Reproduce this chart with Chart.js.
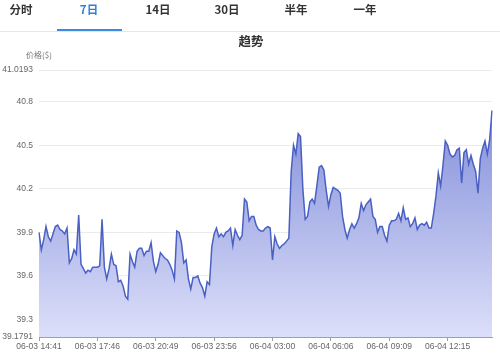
<!DOCTYPE html>
<html>
<head>
<meta charset="utf-8">
<script src="https://cdn.jsdelivr.net/npm/chart.js@4"></script>
<style>
  html, body { margin: 0; padding: 0; background: #fff; }
  body { width: 500px; height: 358px; position: relative; overflow: hidden; font-family: "Noto Sans CJK SC", "Noto Sans", sans-serif; }
  .tab { position: absolute; top: 1px; font-size: 11.5px; font-weight: bold; color: #333; transform: translateX(-50%); white-space: nowrap; line-height: 17px; }
  .tab.active { color: #2f7fd9; }
  #sep { position: absolute; left: 0; top: 31px; width: 500px; height: 1px; background: #e6e6e6; }
  #ul { position: absolute; left: 57px; top: 29px; width: 65px; height: 2px; background: #3d8be0; }
  #title { position: absolute; top: 32px; left: 251px; transform: translateX(-50%); font-size: 12.5px; font-weight: bold; color: #333; line-height: 18px; }
  #unit { position: absolute; top: 49px; left: 26px; font-size: 8px; color: #777; line-height: 12px; }
  #wrap { position: absolute; left: 0; top: 0; width: 500px; height: 358px; }
</style>
</head>
<body>
<div id="wrap"><canvas id="c" width="500" height="358"></canvas></div>
<div class="tab" style="left:21px">分时</div>
<div class="tab active" style="left:89px">7日</div>
<div class="tab" style="left:158px">14日</div>
<div class="tab" style="left:227px">30日</div>
<div class="tab" style="left:296px">半年</div>
<div class="tab" style="left:365px">一年</div>
<div id="sep"></div>
<div id="ul"></div>
<div id="title">趋势</div>
<div id="unit">价格($)</div>
<script>
// Tick labels of the time axis (one every 25 samples)
const xTickLabels = ['06-03 14:41','06-03 17:46','06-03 20:49','06-03 23:56','06-04 03:00','06-04 06:06','06-04 09:09','06-04 12:15'];
const tickEvery = 25;

// Y-axis tick values
const yTicks = [39.1791, 39.3, 39.6, 39.9, 40.2, 40.5, 40.8, 41.0193];
const yMin = 39.1791;
const yMax = 41.0193;

// Price series
const prices = [
39.90,39.78,39.85,39.94,39.87,39.84,39.89,39.94,39.95,39.92,
39.91,39.89,39.93,39.69,39.72,39.78,39.75,40.02,39.68,39.65,
39.62,39.64,39.63,39.66,39.66,39.66,39.67,39.99,39.66,39.58,
39.65,39.75,39.68,39.67,39.56,39.57,39.53,39.46,39.44,39.75,
39.70,39.66,39.77,39.79,39.79,39.74,39.77,39.77,39.83,39.70,
39.63,39.68,39.76,39.74,39.72,39.71,39.68,39.64,39.58,39.91,
39.90,39.83,39.69,39.71,39.58,39.51,39.59,39.59,39.60,39.55,
39.52,39.46,39.56,39.54,39.80,39.89,39.93,39.87,39.89,39.87,
39.90,39.91,39.93,39.81,39.92,39.88,39.85,39.88,40.13,40.11,
39.98,40.01,40.01,39.95,39.92,39.91,39.91,39.93,39.94,39.93,
39.71,39.87,39.82,39.79,39.81,39.82,39.84,39.86,40.32,40.50,
40.44,40.58,40.56,40.20,39.99,40.01,40.11,40.13,40.10,40.22,
40.35,40.36,40.33,40.19,40.08,40.16,40.21,40.20,40.19,40.17,
40.01,39.92,39.86,39.92,39.96,39.93,39.96,40.00,40.10,40.05,
40.09,40.11,40.13,40.01,39.99,39.90,39.94,39.94,39.88,39.84,
39.95,39.98,39.98,39.99,40.03,39.98,40.07,39.99,40.00,39.94,
39.96,40.00,39.92,39.95,39.96,39.95,39.97,39.93,39.93,40.03,
40.15,40.31,40.22,40.36,40.53,40.50,40.44,40.42,40.43,40.47,
40.48,40.24,40.45,40.47,40.37,40.43,40.37,40.32,40.17,40.41,
40.48,40.53,40.44,40.54,40.74
];

const categories = prices.map((_, i) => (i % tickEvery === 0 && xTickLabels[i / tickEvery]) ? xTickLabels[i / tickEvery] : '');

const tickFont = { family: '"Liberation Sans", Arial, sans-serif', size: 8.5 };

new Chart(document.getElementById('c'), {
  type: 'line',
  data: {
    labels: categories,
    datasets: [{
      data: prices,
      borderColor: '#4a60c2',
      borderWidth: 1.5,
      pointRadius: 0,
      pointHoverRadius: 0,
      tension: 0,
      fill: 'start',
      backgroundColor: (ctx) => {
        const a = ctx.chart.chartArea;
        if (!a) return 'rgba(120,135,215,0.6)';
        const g = ctx.chart.ctx.createLinearGradient(0, a.top, 0, a.bottom);
        g.addColorStop(0, '#7482d5');
        g.addColorStop(1, '#dcdff9');
        return g;
      }
    }]
  },
  options: {
    responsive: false,
    animation: false,
    devicePixelRatio: 1,
    layout: { padding: { top: 70, right: 8, bottom: 0, left: 0 } },
    plugins: { legend: { display: false }, tooltip: { enabled: false }, title: { display: false } },
    scales: {
      x: {
        type: 'category',
        afterFit: (s) => { s.height = 21; },
        border: { display: true, color: '#a0a0a0', width: 1 },
        grid: {
          drawOnChartArea: false,
          drawTicks: true,
          tickLength: 4,
          tickColor: (c) => (c.index % tickEvery === 0 && c.index / tickEvery < xTickLabels.length) ? '#a0a0a0' : 'rgba(0,0,0,0)'
        },
        ticks: {
          autoSkip: false,
          maxRotation: 0,
          minRotation: 0,
          padding: 1,
          color: '#666',
          font: tickFont,
          callback: function (v, i) { return categories[i] || ''; }
        }
      },
      y: {
        min: yMin,
        max: yMax,
        afterFit: (s) => { s.width = 39; },
        afterBuildTicks: (s) => { s.ticks = yTicks.map(v => ({ value: v })); },
        border: { display: false },
        grid: { color: '#ebebeb', drawTicks: false, lineWidth: 1 },
        ticks: {
          padding: 6,
          color: '#666',
          font: tickFont,
          callback: (v) => String(+Number(v).toFixed(4))
        }
      }
    }
  }
});
</script>
</body>
</html>
